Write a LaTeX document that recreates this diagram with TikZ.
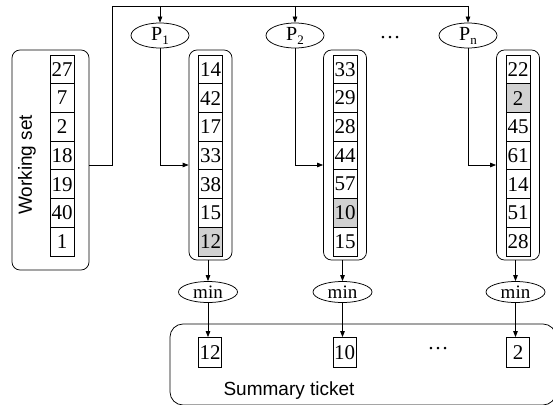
\documentclass[tikz,border=0pt]{standalone}
\usepackage{fontspec}
\setmainfont{Liberation Serif}
\newfontfamily\labelfont{Liberation Sans}
\usetikzlibrary{arrows.meta,shapes.geometric}
\begin{document}
\begin{tikzpicture}[x=1pt,y=-1pt,line width=0.75pt,
  every node/.style={font=\fontsize{21}{24}\selectfont},
  cell/.style={draw, minimum width=24pt, minimum height=28.7pt, inner sep=0pt},
  shaded/.style={cell, fill=black!18},
  oval/.style={ellipse, draw, minimum width=58pt, minimum height=25pt, inner sep=0pt, font=\fontsize{20}{20}\selectfont},
  minoval/.style={ellipse, draw, minimum width=59pt, minimum height=21pt, inner sep=0pt, font=\fontsize{19}{20}\selectfont},
  frame/.style={draw, rounded corners=8pt, inner sep=0pt},
  arr/.style={-{Triangle[length=6pt,width=4.5pt]}},
  sublabel/.style={font=\labelfont\fontsize{19}{22}\selectfont}]
\useasboundingbox (0,0) rectangle (553,404);

% Working set
\node[frame, minimum width=77pt, minimum height=220pt] (ws) at (50.5,160) {};
\node[sublabel, rotate=90] (wslabel) at (27,165) {Working set};
\foreach \v [count=\i] in {27,7,2,18,19,40,1}
  \node[cell] (w\i) at (62,40.65+28.7*\i) {\v};

% Column frames
\node[frame, minimum width=43pt, minimum height=210pt] (c1) at (210.5,155) {};
\node[frame, minimum width=43pt, minimum height=210pt] (c2) at (345,155) {};
\node[frame, minimum width=43pt, minimum height=210pt] (cn) at (518,155) {};

\foreach \v/\s [count=\i] in {14/cell,42/cell,17/cell,33/cell,38/cell,15/cell,12/shaded}
  \node[\s] (a\i) at (210.5,40.65+28.7*\i) {\v};
\foreach \v/\s [count=\i] in {33/cell,29/cell,28/cell,44/cell,57/cell,10/shaded,15/cell}
  \node[\s] (b\i) at (345,40.65+28.7*\i) {\v};
\foreach \v/\s [count=\i] in {22/cell,2/shaded,45/cell,61/cell,14/cell,51/cell,28/cell}
  \node[\s] (d\i) at (518,40.65+28.7*\i) {\v};

% Processors
\node[oval] (p1) at (160,35.5) {P\raisebox{-4pt}{\fontsize{13}{13}\selectfont 1}};
\node[oval] (p2) at (295,35.5) {P\raisebox{-4pt}{\fontsize{13}{13}\selectfont 2}};
\node[oval] (pn) at (468,35.5) {P\raisebox{-4pt}{\fontsize{13}{13}\selectfont n}};
\node (dots1) at (390,38) {\ldots};

% min nodes
\node[minoval] (m1) at (208,292) {min};
\node[minoval] (m2) at (342.5,292) {min};
\node[minoval] (mn) at (515.5,292) {min};

% Summary ticket
\begin{scope}
\clip (0,0) rectangle (553,404);
\node[draw, rounded corners=13pt, minimum width=386pt, minimum height=81pt, inner sep=0pt] (sum) at (363,364.5) {};
\end{scope}
\node[cell, minimum height=30pt, minimum width=23pt] (s1) at (210,352.5) {12};
\node[cell, minimum height=30pt, minimum width=23pt] (s2) at (344.5,352.5) {10};
\node[cell, minimum height=30pt, minimum width=23pt] (sn) at (518,352.5) {2};
\node (dots2) at (438,349) {\ldots};
\node[sublabel] (sumlabel) at (289,391) {Summary ticket};

% Connectors
\coordinate (top) at (112,6);
\coordinate (topend) at (468,6);
\draw ([yshift=-5pt]ws.east) -| (top) -- (topend);
\draw[arr] (p1.north |- top) -- (p1.north);
\draw[arr] (p2.north |- top) -- (p2.north);
\draw[arr] (pn.north |- top) -- (pn.north);

\draw[arr] (p1.south) |- ([yshift=-10pt]c1.west);
\draw[arr] (p2.south) |- ([yshift=-10pt]c2.west);
\draw[arr] (pn.south) |- ([yshift=-10pt]cn.west);

\draw[arr] (m1.north |- c1.south) -- (m1.north);
\draw[arr] (m2.north |- c2.south) -- (m2.north);
\draw[arr] (mn.north |- cn.south) -- (mn.north);

\draw[arr] (m1.south) -- (m1.south |- s1.north);
\draw[arr] (m2.south) -- (m2.south |- s2.north);
\draw[arr] (mn.south) -- (mn.south |- sn.north);
\end{tikzpicture}
\end{document}
